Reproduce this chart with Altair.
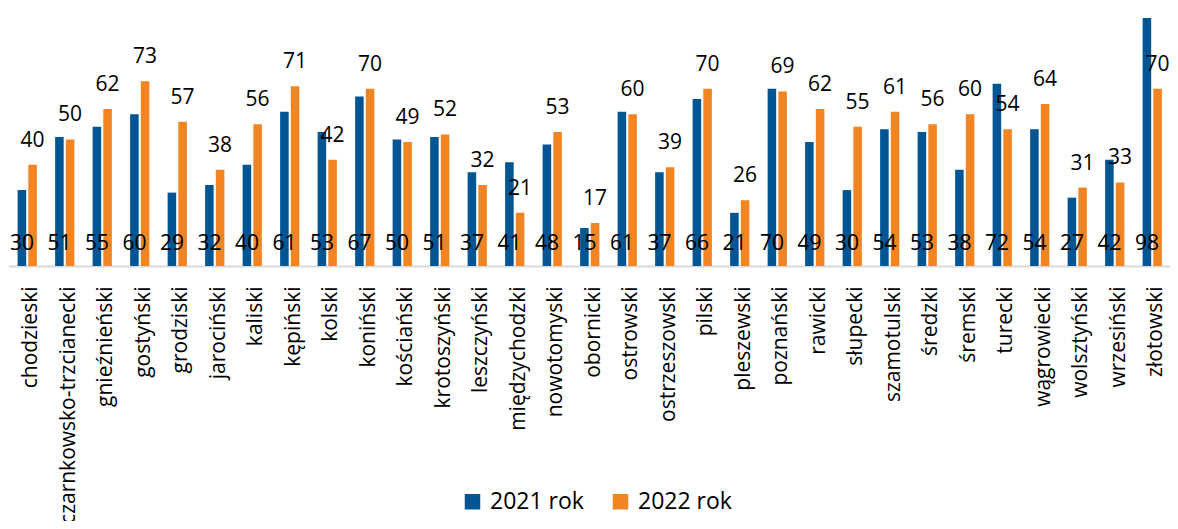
import altair as alt
import pandas as pd

categories = ["chodzieski", "czarnkowsko-trzcianecki", "gnieźnieński", "gostyński", "grodziski",
              "jarociński", "kaliski", "kępiński", "kolski", "koniński", "kościański",
              "krotoszyński", "leszczyński", "międzychodzki", "nowotomyski", "obornicki",
              "ostrowski", "ostrzeszowski", "pilski", "pleszewski", "poznański", "rawicki",
              "słupecki", "szamotulski", "średzki", "śremski", "turecki", "wągrowiecki",
              "wolsztyński", "wrzesiński", "złotowski"]
values_2021 = [30, 51, 55, 60, 29, 32, 40, 61, 53, 67, 50, 51, 37, 41, 48, 15, 61, 37, 66, 21,
               70, 49, 30, 54, 53, 38, 72, 54, 27, 42, 98]
values_2022 = [40, 50, 62, 73, 57, 38, 56, 71, 42, 70, 49, 52, 32, 21, 53, 17, 60, 39, 70, 26,
               69, 62, 55, 61, 56, 60, 54, 64, 31, 33, 70]
series = ["2021 rok", "2022 rok"]
colors = ["#005592", "#F28522"]

rows = []
for c, a, b in zip(categories, values_2021, values_2022):
    rows.append({"powiat": c, "rok": series[0], "v": a})
    rows.append({"powiat": c, "rok": series[1], "v": b})
df = pd.DataFrame(rows)

FONT = "Open Sans"

x = alt.X("powiat:N", sort=categories, title=None,
          scale=alt.Scale(paddingInner=0.487, paddingOuter=0.2435, range=[0.5, 1163]),
          axis=alt.Axis(labelAngle=-90, labelFontSize=21, labelFont=FONT, labelColor="#000000",
                        ticks=False, tickSize=0, labelPadding=20, labelOffset=4,
                        domainColor="#d9d9d9", domainWidth=2, labelLimit=0))
xo = alt.XOffset("rok:N", sort=series, scale=alt.Scale(paddingInner=0.2, paddingOuter=0))
y = alt.Y("v:Q", title=None, scale=alt.Scale(domain=[0, 98], nice=False), axis=None)

base = alt.Chart(df)

bars = base.mark_bar().encode(
    x=x, xOffset=xo, y=y,
    color=alt.Color("rok:N", sort=series, scale=alt.Scale(domain=series, range=colors),
                    legend=alt.Legend(title=None, orient="none", direction="horizontal",
                                      legendX=453, legendY=472, symbolType="square",
                                      symbolSize=240, symbolStrokeWidth=0, labelFontSize=23,
                                      labelFont=FONT, labelColor="#000000", labelOffset=6,
                                      columnPadding=25, padding=0))
)

lab21 = base.transform_filter(alt.datum.rok == series[0]).mark_text(
    font=FONT, fontSize=21, color="#000000", baseline="alphabetic", dy=-16
).encode(x=x, xOffset=xo, y=alt.YValue(248), text="v:Q")

lab22 = base.transform_filter(alt.datum.rok == series[1]).mark_text(
    font=FONT, fontSize=21, color="#000000", baseline="alphabetic", dy=-18
).encode(x=x, xOffset=xo, y=y, text="v:Q")

chart = alt.layer(bars, lab21, lab22).properties(
    width=1162, height=248,
    autosize=alt.AutoSizeParams(type="none"),
    padding={"left": 0, "top": 10, "right": 0, "bottom": 255},
).configure_view(stroke=None).configure_axis(grid=False)

chart.save("out.html", embed_options={"renderer": "svg", "actions": False})
